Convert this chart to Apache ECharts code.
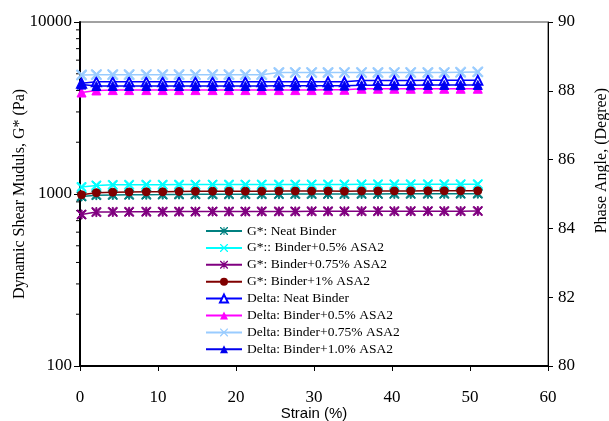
<!DOCTYPE html>
<html>
<head>
<meta charset="utf-8">
<script src="https://cdn.jsdelivr.net/npm/echarts@6/dist/echarts.min.js"></script>
<style>html,body{margin:0;padding:0;background:#fff}#c{width:609px;height:421px}</style>
</head>
<body>
<div id="c"></div>
<script>
// ---- Data ----
const strain = [0.2, 2.1, 4.2, 6.3, 8.5, 10.6, 12.7, 14.8, 17.0, 19.1, 21.2, 23.3, 25.5, 27.6, 29.7, 31.8, 33.9, 36.1, 38.2, 40.3, 42.4, 44.6, 46.7, 48.8, 51.0];

const gNeat   = [968, 985, 988, 990, 991, 992, 994, 995, 995, 996, 997, 997, 998, 999, 999, 1000, 1000, 1001, 1001, 1002, 1002, 1003, 1003, 1004, 1005];
const g05     = [1098, 1122, 1130, 1132, 1133, 1133, 1134, 1134, 1135, 1135, 1135, 1136, 1136, 1136, 1137, 1137, 1137, 1138, 1138, 1138, 1139, 1139, 1139, 1140, 1140];
const g075    = [760, 785, 787, 788, 789, 789, 790, 790, 791, 791, 791, 792, 792, 792, 793, 793, 793, 794, 794, 794, 795, 795, 795, 795, 796];
const g1      = [990, 1018, 1025, 1028, 1030, 1030, 1035, 1037, 1038, 1038, 1039, 1039, 1040, 1040, 1040, 1041, 1038, 1041, 1042, 1042, 1042, 1043, 1043, 1043, 1044];

const dNeat   = [88.22, 88.26, 88.26, 88.26, 88.26, 88.26, 88.26, 88.26, 88.26, 88.26, 88.26, 88.26, 88.26, 88.26, 88.26, 88.26, 88.26, 88.30, 88.30, 88.30, 88.30, 88.31, 88.31, 88.31, 88.31];
const d05     = [87.95, 88.01, 88.02, 88.02, 88.02, 88.02, 88.02, 88.02, 88.02, 88.02, 88.02, 88.02, 88.02, 88.02, 88.02, 88.03, 88.03, 88.06, 88.06, 88.06, 88.06, 88.06, 88.06, 88.06, 88.06];
const d075    = [88.46, 88.47, 88.47, 88.47, 88.47, 88.47, 88.47, 88.47, 88.47, 88.47, 88.47, 88.47, 88.53, 88.53, 88.53, 88.53, 88.53, 88.53, 88.53, 88.53, 88.53, 88.53, 88.53, 88.54, 88.55];
const d10     = [88.18, 88.14, 88.14, 88.14, 88.14, 88.14, 88.14, 88.14, 88.14, 88.14, 88.14, 88.14, 88.15, 88.15, 88.15, 88.15, 88.15, 88.16, 88.16, 88.16, 88.16, 88.17, 88.17, 88.17, 88.17];

const names = [
  'G*: Neat Binder', 'G*:: Binder+0.5% ASA2', 'G*: Binder+0.75% ASA2', 'G*: Binder+1% ASA2',
  'Delta: Neat Binder', 'Delta: Binder+0.5% ASA2', 'Delta: Binder+0.75% ASA2', 'Delta: Binder+1.0% ASA2'
];
const xTicks = [0, 10, 20, 30, 40, 50, 60];
const leftMinorTicks = [200, 300, 400, 500, 600, 700, 800, 900, 2000, 3000, 4000, 5000, 6000, 7000, 8000, 9000];

// ---- Styling ----
const SERIF = '"Liberation Serif","Times New Roman",serif';
const SANS = '"Liberation Sans",Arial,sans-serif';
const X_PATH = 'path://M0,0 L1.2,0 L5,3.8 L8.8,0 L10,0 L10,1.2 L6.2,5 L10,8.8 L10,10 L8.8,10 L5,6.2 L1.2,10 L0,10 L0,8.8 L3.8,5 L0,1.2 Z';
const STAR_PATH = X_PATH + ' M4.4,0 L5.6,0 L5.6,10 L4.4,10 Z';

function pairs(ys) { return strain.map((x, i) => [x, ys[i]]); }

function lineSeries(name, ys, yIdx, color, symbol, size) {
  return {
    name: name, type: 'line', xAxisIndex: 0, yAxisIndex: yIdx,
    data: pairs(ys), symbol: symbol, symbolSize: size, showSymbol: true,
    lineStyle: { color: color, width: 1.5 },
    itemStyle: { color: color, borderColor: color },
    emphasis: { disabled: true }, animation: false
  };
}

const series = [
  lineSeries(names[0], gNeat, 0, '#008080', STAR_PATH, 9),
  lineSeries(names[1], g05, 0, '#00FFFF', X_PATH, 9),
  lineSeries(names[2], g075, 0, '#800080', STAR_PATH, 9),
  lineSeries(names[3], g1, 0, '#800000', 'circle', 8),
  Object.assign(lineSeries(names[4], dNeat, 1, '#0000FF', 'emptyTriangle', 9), { itemStyle: { color: '#0000FF', borderColor: '#0000FF', borderWidth: 1.2 } }),
  lineSeries(names[5], d05, 1, '#FF00FF', 'triangle', 9),
  lineSeries(names[6], d075, 1, '#99CCFF', X_PATH, 10),
  lineSeries(names[7], d10, 1, '#0000EE', 'triangle', 9),
  {
    type: 'custom', xAxisIndex: 0, yAxisIndex: 0, silent: true, animation: false,
    data: leftMinorTicks.map(v => [0, v]),
    renderItem: function (params, api) {
      const p = api.coord([0, api.value(1)]);
      return { type: 'line', shape: { x1: p[0] - 4, y1: p[1], x2: p[0], y2: p[1] }, style: { stroke: '#000', lineWidth: 1 } };
    }
  }
];

const chart = echarts.init(document.getElementById('c'), null, { renderer: 'canvas' });
chart.setOption({
  backgroundColor: '#fff',
  animation: false,
  grid: { left: 80, right: 61, top: 22, bottom: 55, outerBoundsMode: 'none', containLabel: false, show: true, borderColor: '#444', borderWidth: 1, backgroundColor: 'transparent' },
  legend: {
    data: names, orient: 'vertical', left: 200, top: 219,
    itemWidth: 36, itemHeight: 10, itemGap: 2.9,
    textStyle: { fontFamily: SERIF, fontSize: 13.5, color: '#000' },
    selectedMode: false
  },
  xAxis: {
    type: 'value', min: 0, max: 60, interval: 10,
    name: 'Strain (%)', nameLocation: 'middle', nameGap: 40, nameMoveOverlap: false,
    nameTextStyle: { fontFamily: SANS, fontSize: 15, color: '#000' },
    axisLine: { show: true, onZero: false, lineStyle: { color: '#000', width: 2 } },
    axisTick: { show: true, inside: false, length: 5, lineStyle: { color: '#000' } },
    axisLabel: { fontFamily: SERIF, fontSize: 17, color: '#000', margin: 23, formatter: v => xTicks.indexOf(v) >= 0 ? String(v) : '' },
    splitLine: { show: false }
  },
  yAxis: [
    {
      type: 'log', logBase: 10, min: 100, max: 10000,
      name: 'Dynamic Shear Muduls, G* (Pa)', nameLocation: 'middle', nameGap: 52, nameMoveOverlap: false,
      nameTextStyle: { fontFamily: SERIF, fontSize: 16, color: '#000' },
      axisLine: { show: true, lineStyle: { color: '#000', width: 2 } },
      axisTick: { show: true, inside: false, length: 6, lineStyle: { color: '#000' } },
      axisLabel: { fontFamily: SERIF, fontSize: 17, color: '#000', margin: 8, formatter: v => String(v) },
      splitLine: { show: false }
    },
    {
      type: 'value', min: 80, max: 90, interval: 2, position: 'right',
      axisLine: { show: true, lineStyle: { color: '#000', width: 1 } },
      axisTick: { show: true, inside: false, length: 5, lineStyle: { color: '#000' } },
      axisLabel: { fontFamily: SERIF, fontSize: 17, color: '#000', margin: 10 },
      splitLine: { show: false }
    }
  ],
  graphic: [{
    type: 'text', left: 594, top: 88, rotation: Math.PI / 2,
    style: { text: 'Phase Angle, (Degree)', font: '16px ' + SERIF, fill: '#000' }
  }],
  series: series
});
</script>
</body>
</html>
